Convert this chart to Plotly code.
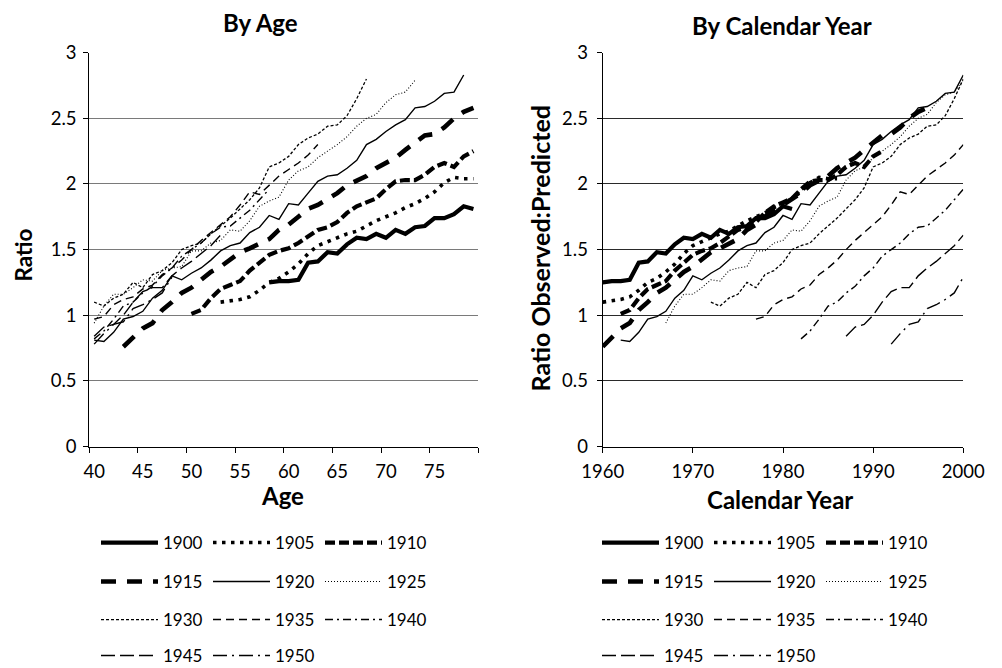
import plotly.graph_objects as go

# ---------------- data ----------------
cohorts = [1900, 1905, 1910, 1915, 1920, 1925, 1930, 1935, 1940, 1945, 1950]
cohort_labels = [str(c) for c in cohorts]
# first age (years) observed for each cohort
start_ages = [58, 53, 50, 43, 40, 40, 40, 40, 40, 40, 40]
# calendar year = cohort + age + year_offset
year_offset = 2

ratio_1900 = [1.25, 1.26, 1.26, 1.27, 1.40, 1.41, 1.48, 1.47, 1.54, 1.59, 1.58, 1.62,
              1.59, 1.65, 1.62, 1.67, 1.68, 1.74, 1.74, 1.77, 1.83, 1.81]
ratio_1905 = [1.10, 1.11, 1.12, 1.14, 1.19, 1.25, 1.28, 1.33, 1.39, 1.47, 1.53, 1.56,
              1.59, 1.62, 1.64, 1.68, 1.72, 1.75, 1.78, 1.82, 1.85, 1.89, 1.94, 2.01,
              2.05, 2.04, 2.04]
ratio_1910 = [1.01, 1.04, 1.13, 1.20, 1.23, 1.26, 1.34, 1.40, 1.46, 1.49, 1.51, 1.55,
              1.60, 1.65, 1.67, 1.71, 1.78, 1.83, 1.86, 1.89, 1.96, 2.02, 2.03, 2.03,
              2.07, 2.13, 2.16, 2.13, 2.21, 2.25]
ratio_1915 = [0.76, 0.83, 0.90, 0.94, 1.04, 1.10, 1.17, 1.21, 1.27, 1.33, 1.37, 1.43,
              1.48, 1.51, 1.55, 1.58, 1.65, 1.69, 1.75, 1.81, 1.84, 1.88, 1.93, 1.99,
              2.03, 2.06, 2.12, 2.16, 2.20, 2.26, 2.32, 2.37, 2.38, 2.43, 2.50, 2.55, 2.58]
ratio_1920 = [0.81, 0.80, 0.87, 0.97, 0.99, 1.03, 1.13, 1.19, 1.30, 1.27, 1.32, 1.36,
              1.42, 1.49, 1.53, 1.55, 1.63, 1.67, 1.76, 1.73, 1.85, 1.84, 1.93, 2.02,
              2.06, 2.07, 2.12, 2.18, 2.30, 2.34, 2.40, 2.45, 2.49, 2.58, 2.59, 2.63,
              2.69, 2.70, 2.83]
ratio_1925 = [0.94, 1.07, 1.16, 1.16, 1.21, 1.27, 1.26, 1.34, 1.36, 1.37, 1.49, 1.49,
              1.55, 1.57, 1.65, 1.64, 1.72, 1.83, 1.87, 1.90, 2.03, 2.10, 2.13, 2.20,
              2.25, 2.30, 2.36, 2.44, 2.50, 2.53, 2.62, 2.68, 2.70, 2.79]
ratio_1930 = [1.10, 1.07, 1.13, 1.16, 1.25, 1.21, 1.31, 1.34, 1.40, 1.50, 1.53, 1.55,
              1.62, 1.68, 1.74, 1.81, 1.88, 1.97, 2.13, 2.16, 2.21, 2.30, 2.35, 2.38,
              2.44, 2.45, 2.52, 2.65, 2.80]
ratio_1935 = [0.97, 0.99, 1.08, 1.12, 1.14, 1.20, 1.23, 1.31, 1.36, 1.42, 1.50, 1.57,
              1.63, 1.69, 1.75, 1.84, 1.94, 1.92, 1.99, 2.06, 2.11, 2.16, 2.22, 2.30]
ratio_1940 = [0.82, 0.88, 0.97, 1.07, 1.10, 1.17, 1.22, 1.30, 1.36, 1.45, 1.50, 1.55,
              1.62, 1.67, 1.68, 1.74, 1.80, 1.88, 1.96]
ratio_1945 = [0.84, 0.91, 0.93, 1.00, 1.10, 1.18, 1.21, 1.21, 1.30, 1.36, 1.41, 1.47,
              1.53, 1.61]
ratio_1950 = [0.78, 0.86, 0.93, 0.95, 1.05, 1.08, 1.12, 1.17, 1.29]

ratios = [ratio_1900, ratio_1905, ratio_1910, ratio_1915, ratio_1920, ratio_1925,
          ratio_1930, ratio_1935, ratio_1940, ratio_1945, ratio_1950]

age_ticks = [40, 45, 50, 55, 60, 65, 70, 75]
year_ticks = [1960, 1970, 1980, 1990, 2000]
ratio_ticks = [0, 0.5, 1, 1.5, 2, 2.5, 3]

# ---------------- styles ----------------
styles = [
    dict(width=4.2, dash="solid"),
    dict(width=3.6, dash="3.5px,5.5px"),
    dict(width=4.2, dash="10px,4px"),
    dict(width=4.6, dash="15px,11px"),
    dict(width=1.4, dash="solid"),
    dict(width=1.1, dash="1px,2px"),
    dict(width=1.3, dash="3px,2px"),
    dict(width=1.4, dash="8px,5px"),
    dict(width=1.4, dash="8px,4px,2px,4px"),
    dict(width=1.4, dash="14px,5px"),
    dict(width=1.4, dash="14px,5px,2px,5px"),
]

# page body adds an 8px offset; the figure is sized to fit the window
OFF = 8
W, H = 1002 - OFF, 668 - OFF
FONT = "Lato, 'Open Sans', sans-serif"

def px_x(v):
    return (v - OFF) / W

def px_y(v):
    return 1 - (v - OFF) / H

fig = go.Figure()

row_of = [0, 0, 0, 1, 1, 1, 2, 2, 2, 3, 3]

for i, c in enumerate(cohorts):
    vals = ratios[i]
    ages = [start_ages[i] + k for k in range(len(vals))]
    years = [c + a + year_offset for a in ages]
    st = styles[i]
    line = dict(color="black", width=st["width"], dash=st["dash"])
    lg_left = "legend" if row_of[i] == 0 else "legend%d" % (row_of[i] + 1)
    lg_right = "legend%d" % (row_of[i] + 5)
    fig.add_trace(go.Scatter(x=ages, y=vals, mode="lines", line=line,
                             name=cohort_labels[i], legend=lg_left,
                             xaxis="x", yaxis="y", hoverinfo="skip"))
    fig.add_trace(go.Scatter(x=years, y=vals, mode="lines", line=line,
                             name=cohort_labels[i], legend=lg_right,
                             xaxis="x2", yaxis="y2", hoverinfo="skip"))

y_dom = [px_y(446.5), px_y(52.7)]
axis_common = dict(showline=True, linecolor="black", linewidth=1.2,
                   tickfont=dict(family=FONT, size=18.5, color="black"),
                   zeroline=False, automargin=False)

layout = dict(
    width=W, height=H,
    paper_bgcolor="white", plot_bgcolor="white",
    margin=dict(l=0, r=0, t=0, b=0, autoexpand=False),
    showlegend=True,
    hovermode=False,
    xaxis=dict(domain=[px_x(89.3), px_x(478.3)], range=[39.5, 79.5],
               tickmode="array", tickvals=age_ticks, ticktext=[str(a) for a in age_ticks],
               ticks="", showgrid=False, anchor="y", ticklabelstandoff=8,
               minor=dict(tickmode="array",
                          tickvals=[39.5 + 5 * k for k in range(9)],
                          ticks="outside", ticklen=5, tickcolor="black", tickwidth=1,
                          showgrid=False),
               **axis_common),
    yaxis=dict(domain=y_dom, range=[0, 3], tickmode="array", tickvals=ratio_ticks,
               ticks="outside", ticklen=5, tickcolor="black", ticklabelstandoff=3,
               showgrid=True, gridcolor="#7a7a7a", gridwidth=1.4, anchor="x",
               **axis_common),
    xaxis2=dict(domain=[px_x(602.7), px_x(963.3)], range=[1960, 2000],
                tickmode="array", tickvals=year_ticks, ticklabelstandoff=3,
                ticks="outside", ticklen=5, tickcolor="black", showgrid=False,
                anchor="y2", **axis_common),
    yaxis2=dict(domain=y_dom, range=[0, 3], tickmode="array", tickvals=ratio_ticks,
                ticks="outside", ticklen=5, tickcolor="black", ticklabelstandoff=5,
                showgrid=True, gridcolor="#2a2a2a", gridwidth=1, anchor="x2",
                **axis_common),
)

row_y = [543, 582, 620, 656]
for r in range(4):
    for p, x0 in enumerate([96, 597]):
        key = "legend" if (p == 0 and r == 0) else "legend%d" % (r + 1 + 4 * p)
        layout[key] = dict(orientation="h", x=px_x(x0), xanchor="left",
                           y=px_y(row_y[r]), yanchor="middle",
                           font=dict(family=FONT, size=17, color="black"),
                           itemwidth=57, entrywidth=40, entrywidthmode="pixels",
                           bgcolor="rgba(0,0,0,0)", borderwidth=0,
                           itemclick=False, itemdoubleclick=False,
                           traceorder="normal")

fig.update_layout(**layout)

def ann(text, x, y, size=24, angle=0):
    fig.add_annotation(text="<b>%s</b>" % text, x=px_x(x), y=px_y(y),
                       xref="paper", yref="paper", showarrow=False,
                       textangle=angle, xanchor="center", yanchor="middle",
                       font=dict(family=FONT, size=size, color="black"))

ann("By Age", 260, 22, size=24)
ann("By Calendar Year", 782, 26, size=24)
ann("Age", 282, 495, size=24)
ann("Calendar Year", 780, 499, size=24)
ann("Ratio", 22.5, 255, size=22.5, angle=-90)
ann("Ratio Observed:Predicted", 539.5, 249, size=25, angle=-90)

fig.write_html("out.html")
